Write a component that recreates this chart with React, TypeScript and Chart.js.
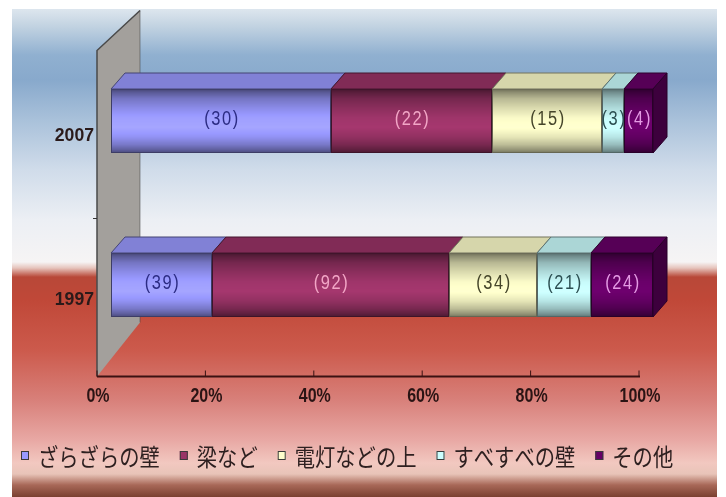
import React, { useEffect, useRef } from 'react';
import { Chart, registerables } from 'chart.js';

Chart.register(...registerables);

// ---- data ----
const categories = ['2007', '1997'];
const seriesNames = ['ざらざらの壁', '梁など', '電灯などの上', 'すべすべの壁', 'その他'];
const roughWallCounts = [30, 39];
const beamCounts = [22, 92];
const lightTopCounts = [15, 34];
const smoothWallCounts = [3, 21];
const otherCounts = [4, 24];
const xTickValues = [0, 20, 40, 60, 80, 100];

// ---- styles ----
const seriesColors = ['#9999FF', '#993366', '#FFFFCC', '#CCFFFF', '#660066'];
const valueLabelColors = ['#2c2c84', '#f2a6c6', '#45452a', '#2c4f52', '#e49ae4'];

const seriesCounts = [roughWallCounts, beamCounts, lightTopCounts, smoothWallCounts, otherCounts];
const totals = categories.map((_, i) => seriesCounts.reduce((s, arr) => s + arr[i], 0));

const BAR_THICKNESS = 64;
const DEPTH_X = 14;
const DEPTH_Y = 16;

function hexToRgb(hex: string) {
  const h = hex.replace('#', '');
  return [parseInt(h.slice(0, 2), 16), parseInt(h.slice(2, 4), 16), parseInt(h.slice(4, 6), 16)];
}
function shade(hex: string, f: number) {
  const [r, g, b] = hexToRgb(hex);
  const c = (v: number) => Math.max(0, Math.min(255, Math.round(v * f)));
  return `rgb(${c(r)},${c(g)},${c(b)})`;
}

function drawText(
  ctx: CanvasRenderingContext2D,
  text: string,
  x: number,
  y: number,
  font: string,
  color: string,
  align: CanvasTextAlign,
  sx = 1,
  sy = 1,
  spacing = '0px'
) {
  ctx.save();
  ctx.translate(x, y);
  ctx.scale(sx, sy);
  ctx.font = font;
  ctx.fillStyle = color;
  ctx.textAlign = align;
  ctx.textBaseline = 'middle';
  (ctx as any).letterSpacing = spacing;
  ctx.fillText(text, 0, 0);
  ctx.restore();
}

// front-face shading bands (fraction of height, brightness multiplier)
const FRONT_SHADE: [number, number][] = [
  [0, 0.42], [0.05, 0.55], [0.15, 0.72], [0.3, 0.86], [0.45, 0.98], [0.6, 1.02],
  [0.75, 0.9], [0.87, 0.74], [0.95, 0.58], [1, 0.45],
];
function shadeAt(t: number) {
  for (let k = 1; k < FRONT_SHADE.length; k++) {
    const [t1, f1] = FRONT_SHADE[k];
    const [t0, f0] = FRONT_SHADE[k - 1];
    if (t <= t1) return f0 + ((t - t0) / (t1 - t0)) * (f1 - f0);
  }
  return FRONT_SHADE[FRONT_SHADE.length - 1][1];
}

const scene3d = {
  id: 'scene3d',
  beforeDraw(chart: any) {
    const { ctx, width, height } = chart;
    ctx.save();
    ctx.fillStyle = '#ffffff';
    ctx.fillRect(0, 0, width, height);
    const px0 = 12, py0 = 9, px1 = 717, py1 = height;
    const g = ctx.createLinearGradient(0, py0, 0, py1);
    const H = py1 - py0;
    const stops: [number, string][] = [
      [9, '#dde6ee'], [25, '#c4d4e2'], [55, '#90b0d0'], [80, '#88a9cc'], [120, '#a9c1da'],
      [170, '#d0dcea'], [220, '#eceff4'], [262, '#f6f4f4'], [268, '#e6c4bc'], [277, '#b84838'],
      [300, '#c04838'], [350, '#cc5a4c'], [400, '#d8807a'], [440, '#e8a8a4'], [463, '#f2c8c0'],
      [474, '#e8c4b8'], [485, '#a86858'], [497, '#7a4030'],
    ];
    stops.forEach(([y, c]) => g.addColorStop(Math.max(0, Math.min(1, (y - py0) / H)), c));
    ctx.fillStyle = g;
    ctx.fillRect(px0, py0, px1 - px0, py1 - py0);
    ctx.restore();
  },
  beforeDatasetsDraw(chart: any) {
    const { ctx, chartArea: ca } = chart;
    const xs = chart.scales.x;
    const ys = chart.scales.y;
    const fx = xs.getPixelForValue(0) - DEPTH_X;
    const axisY = ca.bottom + 10;
    const wallTop = ca.top + 12;
    const bx = fx + 43;
    const backTop = ca.top - 28;
    const backBottom = axisY - 54;
    ctx.save();
    ctx.beginPath();
    ctx.moveTo(fx, wallTop);
    ctx.lineTo(bx, backTop);
    ctx.lineTo(bx, backBottom);
    ctx.lineTo(fx, axisY);
    ctx.closePath();
    ctx.fillStyle = '#a3a09c';
    ctx.fill();
    ctx.strokeStyle = '#4a4a4a';
    ctx.lineWidth = 1.5;
    ctx.beginPath();
    ctx.moveTo(fx, axisY);
    ctx.lineTo(fx, wallTop);
    ctx.lineTo(bx, backTop);
    ctx.stroke();
    ctx.strokeStyle = 'rgba(60,60,60,0.5)';
    ctx.lineWidth = 1;
    ctx.beginPath();
    ctx.moveTo(bx, backTop);
    ctx.lineTo(bx, backBottom);
    ctx.stroke();
    const midY = (ys.getPixelForValue(0) + ys.getPixelForValue(1)) / 2 + DEPTH_Y;
    ctx.strokeStyle = '#333';
    ctx.beginPath();
    ctx.moveTo(fx - 4, midY);
    ctx.lineTo(fx, midY);
    ctx.stroke();
    const endX = xs.getPixelForValue(100) - DEPTH_X;
    ctx.strokeStyle = '#3a1212';
    ctx.lineWidth = 2;
    ctx.beginPath();
    ctx.moveTo(fx, axisY);
    ctx.lineTo(endX + 1, axisY);
    ctx.stroke();
    ctx.lineWidth = 1;
    xTickValues.forEach((v) => {
      const tx = xs.getPixelForValue(v) - DEPTH_X;
      ctx.beginPath();
      ctx.moveTo(tx, axisY);
      ctx.lineTo(tx, axisY - 6);
      ctx.stroke();
      drawText(ctx, `${v}%`, tx + 1, axisY + 20, 'bold 20px "Liberation Sans", Arial, sans-serif', '#2a1414', 'center', 0.8, 1);
    });
    categories.forEach((c, i) => {
      const cy = ys.getPixelForValue(i) + DEPTH_Y;
      drawText(ctx, c, fx - 3, cy, 'bold 18px "Liberation Sans", Arial, sans-serif', '#2a1a1a', 'right', 0.98, 1);
    });
    ctx.restore();
  },
  afterDatasetsDraw(chart: any) {
    const ctx: CanvasRenderingContext2D = chart.ctx;
    const n = chart.data.datasets.length;
    ctx.save();
    const boxes: any[] = [];
    for (let d = 0; d < n; d++) {
      const meta = chart.getDatasetMeta(d);
      const color = seriesColors[d];
      const boost = d === 2 || d === 3 ? 1 : 1.06;
      meta.data.forEach((el: any, i: number) => {
        const left = Math.round(Math.min(el.base, el.x));
        const right = Math.round(Math.max(el.base, el.x));
        const h = Math.round(el.height || BAR_THICKNESS);
        const top = Math.round(el.y - h / 2);
        const bottom = top + h;
        // front face: row-by-row cylinder-like shading
        for (let r = 0; r < h; r++) {
          ctx.fillStyle = shade(color, shadeAt((r + 0.5) / h) * boost);
          ctx.fillRect(left, top + r, right - left, 1);
        }
        ctx.strokeStyle = shade(color, 0.4);
        ctx.lineWidth = 1;
        ctx.strokeRect(left + 0.5, top + 0.5, right - left - 1, bottom - top - 1);
        // top face
        ctx.beginPath();
        ctx.moveTo(left, top);
        ctx.lineTo(right, top);
        ctx.lineTo(right + DEPTH_X, top - DEPTH_Y);
        ctx.lineTo(left + DEPTH_X, top - DEPTH_Y);
        ctx.closePath();
        ctx.fillStyle = shade(color, 0.84);
        ctx.fill();
        ctx.strokeStyle = shade(color, 0.45);
        ctx.stroke();
        if (d === n - 1) {
          ctx.beginPath();
          ctx.moveTo(right, top);
          ctx.lineTo(right + DEPTH_X, top - DEPTH_Y);
          ctx.lineTo(right + DEPTH_X, bottom - DEPTH_Y);
          ctx.lineTo(right, bottom);
          ctx.closePath();
          ctx.fillStyle = shade(color, 0.6);
          ctx.fill();
          ctx.strokeStyle = shade(color, 0.4);
          ctx.stroke();
        }
        boxes.push({ d, i, cx: (left + right) / 2, cy: el.y });
      });
    }
    boxes.forEach((b) => {
      drawText(
        ctx,
        `(${seriesCounts[b.d][b.i]})`,
        b.cx + 1,
        b.cy - 1,
        '20px "Liberation Sans", Arial, sans-serif',
        valueLabelColors[b.d],
        'center',
        0.82,
        1,
        '2px'
      );
    });
    ctx.restore();
  },
  afterDraw(chart: any) {
    const { ctx } = chart;
    ctx.save();
    const font = '20px "Noto Sans CJK JP", sans-serif';
    const sx = 1.015;
    let x = 21;
    const ty = 457;
    seriesNames.forEach((name, d) => {
      ctx.fillStyle = seriesColors[d];
      ctx.fillRect(x, 451, 8, 9);
      ctx.strokeStyle = '#3a3a3a';
      ctx.lineWidth = 1;
      ctx.strokeRect(x + 0.5, 451.5, 7, 8);
      const tx = x + 17;
      ctx.font = font;
      const w = ctx.measureText(name).width * sx;
      drawText(ctx, name, tx, ty, font, '#2e2020', 'left', sx, 1.18);
      x = tx + w + 20;
    });
    ctx.restore();
  },
};

export default function App() {
  const ref = useRef<HTMLCanvasElement>(null);
  useEffect(() => {
    const canvas = ref.current;
    if (!canvas) return;
    const datasets = seriesNames.map((name, d) => ({
      label: name,
      data: seriesCounts[d].map((v, i) => (v / totals[i]) * 100),
      barThickness: BAR_THICKNESS,
      borderWidth: 0,
      backgroundColor: seriesColors[d],
    }));
    const chart = new Chart(canvas, {
      type: 'bar',
      data: { labels: categories, datasets },
      options: {
        indexAxis: 'y',
        responsive: false,
        animation: false,
        layout: { padding: { left: 111, right: 73, top: 38.5, bottom: 130.5 } },
        scales: {
          x: { stacked: true, min: 0, max: 100, display: false },
          y: { stacked: true, display: false },
        },
        plugins: { legend: { display: false }, tooltip: { enabled: false } },
      },
      plugins: [scene3d],
    } as any);
    return () => chart.destroy();
  }, []);
  return (
    <div style={{ position: 'fixed', left: 0, top: 0, width: 726, height: 497 }}>
      <canvas ref={ref} width={726} height={497} style={{ display: 'block' }} />
    </div>
  );
}
